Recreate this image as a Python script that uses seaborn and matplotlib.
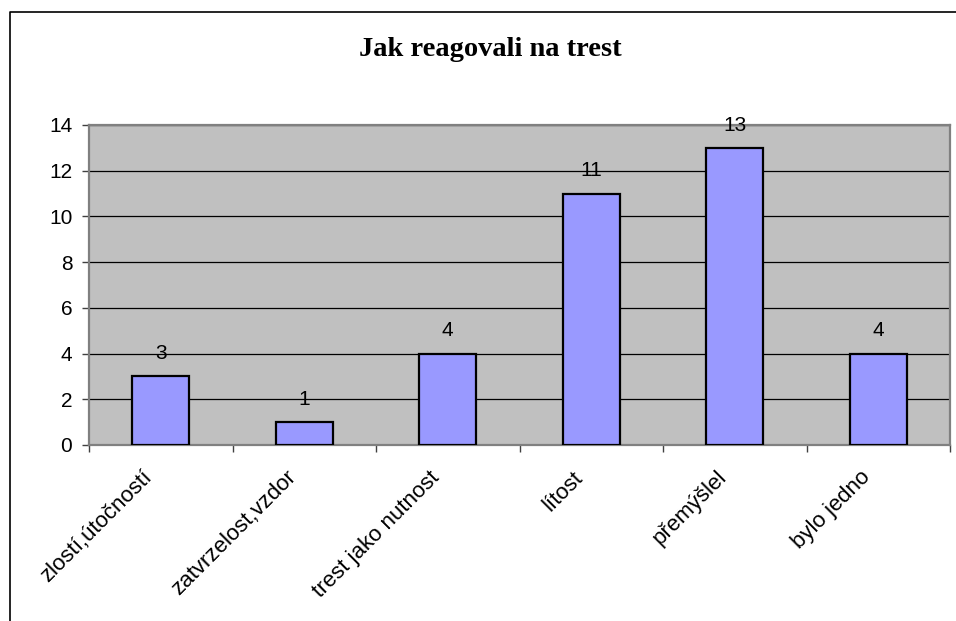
import pandas as pd
import matplotlib.pyplot as plt
import matplotlib.transforms as mtransforms
import seaborn as sns
from matplotlib.lines import Line2D

# data
categories = ["zlostí,útočností", "zatvrzelost,vzdor", "trest jako nutnost",
              "lítost", "přemýšlel", "bylo jedno"]
counts = [3, 1, 4, 11, 13, 4]

df = pd.DataFrame({"reakce": categories, "pocet": counts})

sns.set_style("white")
plt.rcParams['font.family'] = ['Liberation Sans', 'DejaVu Sans']
plt.rcParams['text.color'] = 'black'
plt.rcParams['xtick.color'] = 'black'
plt.rcParams['ytick.color'] = 'black'

fig = plt.figure(figsize=(9.56, 6.21), dpi=100)
ax = fig.add_axes([89 / 956, 1 - 445 / 621, (950 - 89) / 956, (445 - 125) / 621])

sns.barplot(data=df, x="reakce", y="pocet", color="#9999FF", width=0.4,
            edgecolor="black", linewidth=1.6, saturation=1, ax=ax, zorder=3)

ax.set_facecolor("#C0C0C0")
ax.set_ylim(0, 14)
ax.set_xlim(-0.5, len(categories) - 0.5)
ax.set_yticks(range(0, 15, 2))
ax.yaxis.grid(True, color="black", linewidth=0.9, zorder=1)
ax.set_axisbelow(True)
for s in ax.spines.values():
    s.set_color("#808080")
    s.set_linewidth(1.6)

ax.set_xlabel("")
ax.set_ylabel("")

# ticks at category boundaries, labels placed under bars by hand
ax.set_xticks([i - 0.5 for i in range(len(categories) + 1)])
ax.set_xticklabels([])
ax.tick_params(axis="x", direction="out", length=5, width=1, color="#404040", bottom=True)
ax.tick_params(axis="y", direction="out", length=5, width=1, color="#404040", left=True, labelsize=15, pad=7)

lab_tr = ax.get_xaxis_transform() + mtransforms.ScaledTranslation(-19 / 100, -22 / 100, fig.dpi_scale_trans)
for i, name in enumerate(categories):
    ax.text(i, 0, name, transform=lab_tr, rotation=45, ha="right", va="top",
            rotation_mode="anchor", fontsize=16, clip_on=False)

for i, v in enumerate(counts):
    ax.annotate(str(v), (i, v), xytext=(0, 9.5), textcoords="offset points",
                ha="center", va="bottom", fontsize=15, annotation_clip=False)

fig.text(490 / 956, 1 - 50 / 621, "Jak reagovali na trest", ha="center", va="center",
         fontsize=20.5, fontweight="bold", family=["Liberation Serif", "DejaVu Serif"])

# chart border (left and top)
fig.add_artist(Line2D([10 / 956, 10 / 956, 1], [0, 1 - 12 / 621, 1 - 12 / 621],
                      transform=fig.transFigure, color="black", linewidth=1.2))

fig.savefig("out.png")
